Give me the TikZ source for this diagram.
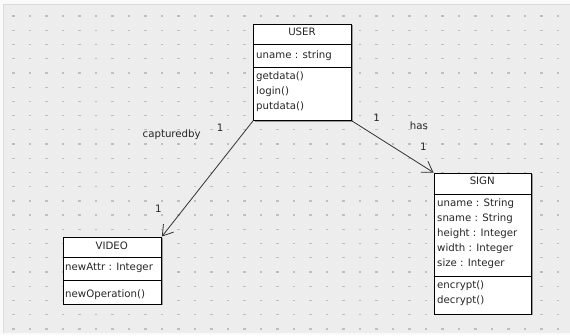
\documentclass[tikz,border=0pt]{standalone}
\usepackage{fontspec}
\setmainfont{DejaVu Sans}
\usetikzlibrary{arrows.meta,shadows}
\begin{document}
\begin{tikzpicture}[x=1bp,y=-1bp,
  cls/.style={draw=black, line width=0.9bp, fill=white, inner sep=0pt, anchor=north west,
    drop shadow={shadow xshift=1.4bp, shadow yshift=-1.4bp, fill=black!40, opacity=1}},
  lbl/.style={font=\fontsize{10.2bp}{12bp}\selectfont, text=black!85, inner sep=0pt, anchor=base west},
  ttl/.style={lbl, anchor=base},
  sep/.style={draw=black, line width=0.8bp},
  assoc/.style={draw=black!80, line width=0.8bp, -{Straight Barb[length=10bp,width=13bp]}}
]
\useasboundingbox (0,0) rectangle (570,335);
% canvas with dotted grid
\fill[black!2] (0,0) rectangle (570,335);
\fill[black!7] (3.5,4.5) rectangle (570,332.5);
\draw[black!14, line width=0.6bp] (3.5,332.5) -- (3.5,4.5) -- (570,4.5);
\foreach \i in {0,...,33}
  \foreach \j in {0,...,22}
    \fill[black!25] ({12.3+16.5*\i},{15.4+14.22*\j}) rectangle +(2.2,1.3);

% class boxes
\node[cls, minimum width=98bp, minimum height=96.5bp] (user) at (253,23.5) {};
\draw[sep] ([yshift=-21bp]user.north west) -- ([yshift=-21bp]user.north east);
\draw[sep] ([yshift=-43.5bp]user.north west) -- ([yshift=-43.5bp]user.north east);

\node[cls, minimum width=97.5bp, minimum height=141bp] (sign) at (433.5,172.5) {};
\draw[sep] ([yshift=-22bp]sign.north west) -- ([yshift=-22bp]sign.north east);
\draw[sep] ([yshift=-104bp]sign.north west) -- ([yshift=-104bp]sign.north east);

\node[cls, minimum width=98.5bp, minimum height=67bp] (video) at (62.5,236.5) {};
\draw[sep] ([yshift=-21bp]video.north west) -- ([yshift=-21bp]video.north east);
\draw[sep] ([yshift=-43.5bp]video.north west) -- ([yshift=-43.5bp]video.north east);

% USER
\node[ttl] (userT) at (302,35.5) {USER};
\node[lbl] (userA) at (256,58) {uname : string};
\node[lbl] (userO1) at (256,79.5) {getdata()};
\node[lbl] (userO2) at (256,94.5) {login()};
\node[lbl] (userO3) at (256,109.5) {putdata()};

% SIGN
\node[ttl] (signT) at (482.25,184.5) {SIGN};
\node[lbl] (signA1) at (437,206.5) {uname : String};
\node[lbl] (signA2) at (437,221.5) {sname : String};
\node[lbl] (signA3) at (437,236.5) {height : Integer};
\node[lbl] (signA4) at (437,251.5) {width : Integer};
\node[lbl] (signA5) at (437,266.5) {size : Integer};
\node[lbl] (signO1) at (437,288.5) {encrypt()};
\node[lbl] (signO2) at (437,303.5) {decrypt()};

% VIDEO
\node[ttl] (videoT) at (111.75,249) {VIDEO};
\node[lbl] (videoA) at (65,270.5) {newAttr : Integer};
\node[lbl] (videoO) at (65,297.5) {newOperation()};

% associations
\draw[assoc] (user.south west) -- (video.north east);
\draw[assoc] (user.south east) -- (sign.north west);

\node[ttl] (capLbl) at (171.7,137.5) {capturedby};
\node[ttl] (capM1) at (220,131.5) {1};
\node[ttl] (capM2) at (158.3,212.5) {1};
\node[ttl] (hasLbl) at (419,129.5) {has};
\node[ttl] (hasM1) at (376.7,121) {1};
\node[ttl] (hasM2) at (423.3,150.5) {1};
\end{tikzpicture}
\end{document}
